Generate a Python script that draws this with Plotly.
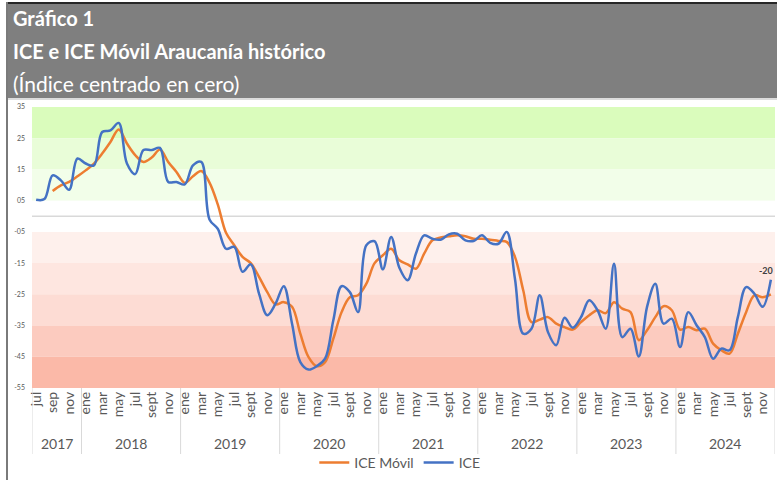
import plotly.graph_objects as go

# ---------------- data ----------------
years = ["2017", "2018", "2019", "2020", "2021", "2022", "2023", "2024"]
months_2017 = ["jul", "ago", "sep", "oct", "nov", "dic"]
months_full = ["ene", "feb", "mar", "abr", "may", "jun", "jul", "ago", "sept", "oct", "nov", "dic"]

ice = [5.3, 5.5, 13.1, 11.5, 8.5, 18.5,
       16.9, 16.3, 27.0, 27.5, 29.9, 16.9, 13.5, 21.2, 21.2, 21.9, 11.0, 11.0,
       10.2, 16.3, 17.4, -1.0, -4.0, -10.4, -9.8, -17.8, -15.4, -24.8, -31.7, -28.0,
       -22.4, -34.4, -46.7, -49.1, -48.0, -45.6, -33.3, -22.4, -24.3, -30.7, -9.3, -8.0,
       -17.0, -6.6, -16.5, -20.5, -12.0, -6.1, -7.2, -7.5, -5.8, -5.6, -7.7, -7.9,
       -6.1, -8.5, -8.8, -5.0, -20.0, -37.6, -36.0, -25.3, -37.1, -41.3, -32.5, -35.7,
       -32.3, -26.9, -30.1, -36.0, -15.2, -38.7, -36.0, -44.9, -29.0, -21.6, -34.4, -32.8,
       -41.9, -30.7, -34.9, -38.7, -45.6, -42.4, -42.9, -32.3, -22.7, -24.8, -29.0, -20.3]

ice_movil = [None, None, 8.1, 9.9, 11.0, 12.8,
             14.7, 16.9, 20.1, 23.8, 27.8, 23.3, 19.6, 17.4, 18.8, 21.4, 17.4, 14.2,
             10.7, 12.8, 14.5, 10.8, 3.8, -5.3, -9.3, -13.0, -15.0, -19.4, -24.3, -28.2,
             -27.5, -29.0, -37.6, -45.1, -48.0, -46.7, -39.2, -30.7, -25.9, -25.3, -21.6, -15.0,
             -12.5, -10.4, -14.1, -15.4, -16.8, -12.0, -7.7, -6.8, -6.4, -6.1, -6.4, -7.2,
             -7.2, -7.5, -7.9, -8.2, -13.0, -23.7, -33.9, -33.1, -32.3, -34.4, -35.5, -36.3,
             -33.9, -31.7, -30.1, -31.0, -27.5, -29.6, -30.7, -39.7, -36.5, -32.3, -28.8, -30.1,
             -36.3, -35.5, -36.5, -36.0, -40.8, -42.9, -44.0, -37.6, -30.7, -25.3, -25.9, -25.0]

y_tickvals = [35, 25, 15, 5, -5, -15, -25, -35, -45, -55]
y_ticktext = ["35", "25", "15", "05", "-05", "-15", "-25", "-35", "-45", "-55"]

band_edges = [35, 25, 15, 5, -5, -15, -25, -35, -45, -55]
band_colors = ["#dafcbc", "#e9fdd8", "#f2fee9", "#ffffff",
               "#fef0ec", "#fee6e0", "#fddcd4", "#fccbbf", "#fbb9a8"]

# ---------------- build ----------------
month_labels = months_2017 + months_full * 7
n = len(month_labels)
x = list(range(n))
year_sizes = [6] + [12] * 7

W, H = 777, 480
L, R, T, B = 32, 2, 107, 92
PW, PH = W - L - R, H - T - B


def px_x(p):
    return (p - L) / PW


def px_y(p):
    return (H - B - p) / PH


FONT = "Lato"
GREY = "#595959"

fig = go.Figure()
fig.add_trace(go.Scatter(x=x, y=ice_movil, name="ICE Móvil", mode="lines",
                         line=dict(color="#ED7D31", width=2.5, shape="spline", smoothing=1),
                         connectgaps=False))
fig.add_trace(go.Scatter(x=x, y=ice, name="ICE", mode="lines",
                         line=dict(color="#4472C4", width=2.5, shape="spline", smoothing=1)))

shapes = []
for i, c in enumerate(band_colors):
    shapes.append(dict(type="rect", xref="x domain", yref="y", x0=0, x1=1,
                       y0=band_edges[i + 1], y1=band_edges[i], fillcolor=c,
                       line=dict(width=0), layer="below"))
shapes.append(dict(type="line", xref="x domain", yref="y", x0=0, x1=1, y0=0, y1=0,
                   line=dict(color="#d9d9d9", width=1.5), layer="below"))

# year separators and year labels
annotations = []
start = -0.5
bottom_sep = px_y(454)
for yr, sz in zip(years, year_sizes):
    shapes.append(dict(type="line", xref="x", yref="paper", x0=start, x1=start,
                       y0=0, y1=bottom_sep, line=dict(color="#d9d9d9", width=1)))
    annotations.append(dict(x=start + sz / 2, y=px_y(443), xref="x", yref="paper",
                            text=yr, showarrow=False, font=dict(size=14, color=GREY, family=FONT),
                            xanchor="center", yanchor="middle"))
    start += sz
shapes.append(dict(type="line", xref="x", yref="paper", x0=start, x1=start,
                   y0=0, y1=bottom_sep, line=dict(color="#d9d9d9", width=1)))

# header box and borders
shapes.append(dict(type="rect", xref="paper", yref="paper", x0=px_x(6), x1=px_x(778),
                   y0=px_y(98), y1=px_y(3), fillcolor="#7f7f7f", line=dict(width=0)))
shapes.append(dict(type="line", xref="paper", yref="paper", x0=px_x(6), x1=px_x(778),
                   y0=px_y(3), y1=px_y(3), line=dict(color="#262626", width=2)))
shapes.append(dict(type="line", xref="paper", yref="paper", x0=px_x(6), x1=px_x(778),
                   y0=px_y(99), y1=px_y(99), line=dict(color="#d0d0d0", width=1.5)))
shapes.append(dict(type="line", xref="paper", yref="paper", x0=px_x(7), x1=px_x(7),
                   y0=px_y(2), y1=px_y(481), line=dict(color="#7a7a7a", width=2)))

annotations += [
    dict(x=px_x(11), y=px_y(18), xref="paper", yref="paper", text="<b>Gráfico 1</b>",
         showarrow=False, xanchor="left", yanchor="middle",
         font=dict(size=20, color="white", family=FONT)),
    dict(x=px_x(11), y=px_y(51), xref="paper", yref="paper",
         text="<b>ICE e ICE Móvil Araucanía histórico</b>",
         showarrow=False, xanchor="left", yanchor="middle",
         font=dict(size=20, color="white", family=FONT)),
    dict(x=px_x(11), y=px_y(84), xref="paper", yref="paper",
         text="(Índice centrado en cero)",
         showarrow=False, xanchor="left", yanchor="middle",
         font=dict(size=21, color="white", family=FONT)),
    dict(x=x[-1], y=ice[-1], xref="x", yref="y", text="<b>-20</b>",
         showarrow=False, xanchor="right", yanchor="bottom", xshift=4, yshift=2,
         font=dict(size=9, color="#404040", family=FONT)),
]

fig.update_layout(
    width=W, height=H,
    margin=dict(l=L, r=R, t=T, b=B, autoexpand=False),
    paper_bgcolor="white", plot_bgcolor="white",
    shapes=shapes, annotations=annotations,
    showlegend=True,
    legend=dict(orientation="h", x=0.495, xanchor="center", y=px_y(463), yanchor="middle",
                font=dict(size=14, color=GREY, family=FONT), itemwidth=30,
                bgcolor="rgba(0,0,0,0)"),
    xaxis=dict(range=[-0.5, n - 0.5], tickvals=x[::2], ticktext=month_labels[::2],
               tickangle=-90, showgrid=False, zeroline=False, showline=False, ticks="",
               automargin=False,
               tickfont=dict(size=14, color=GREY, family=FONT), fixedrange=True),
    yaxis=dict(range=[-55, 35], tickvals=y_tickvals, ticktext=y_ticktext,
               showgrid=False, zeroline=False, showline=False, ticks="",
               ticklabelstandoff=6, automargin=False,
               tickfont=dict(size=7, color=GREY, family=FONT), fixedrange=True),
)

fig.write_html("out.html", config={"displayModeBar": False},
               post_script="document.body.style.margin='0';document.body.style.overflow='hidden';")
